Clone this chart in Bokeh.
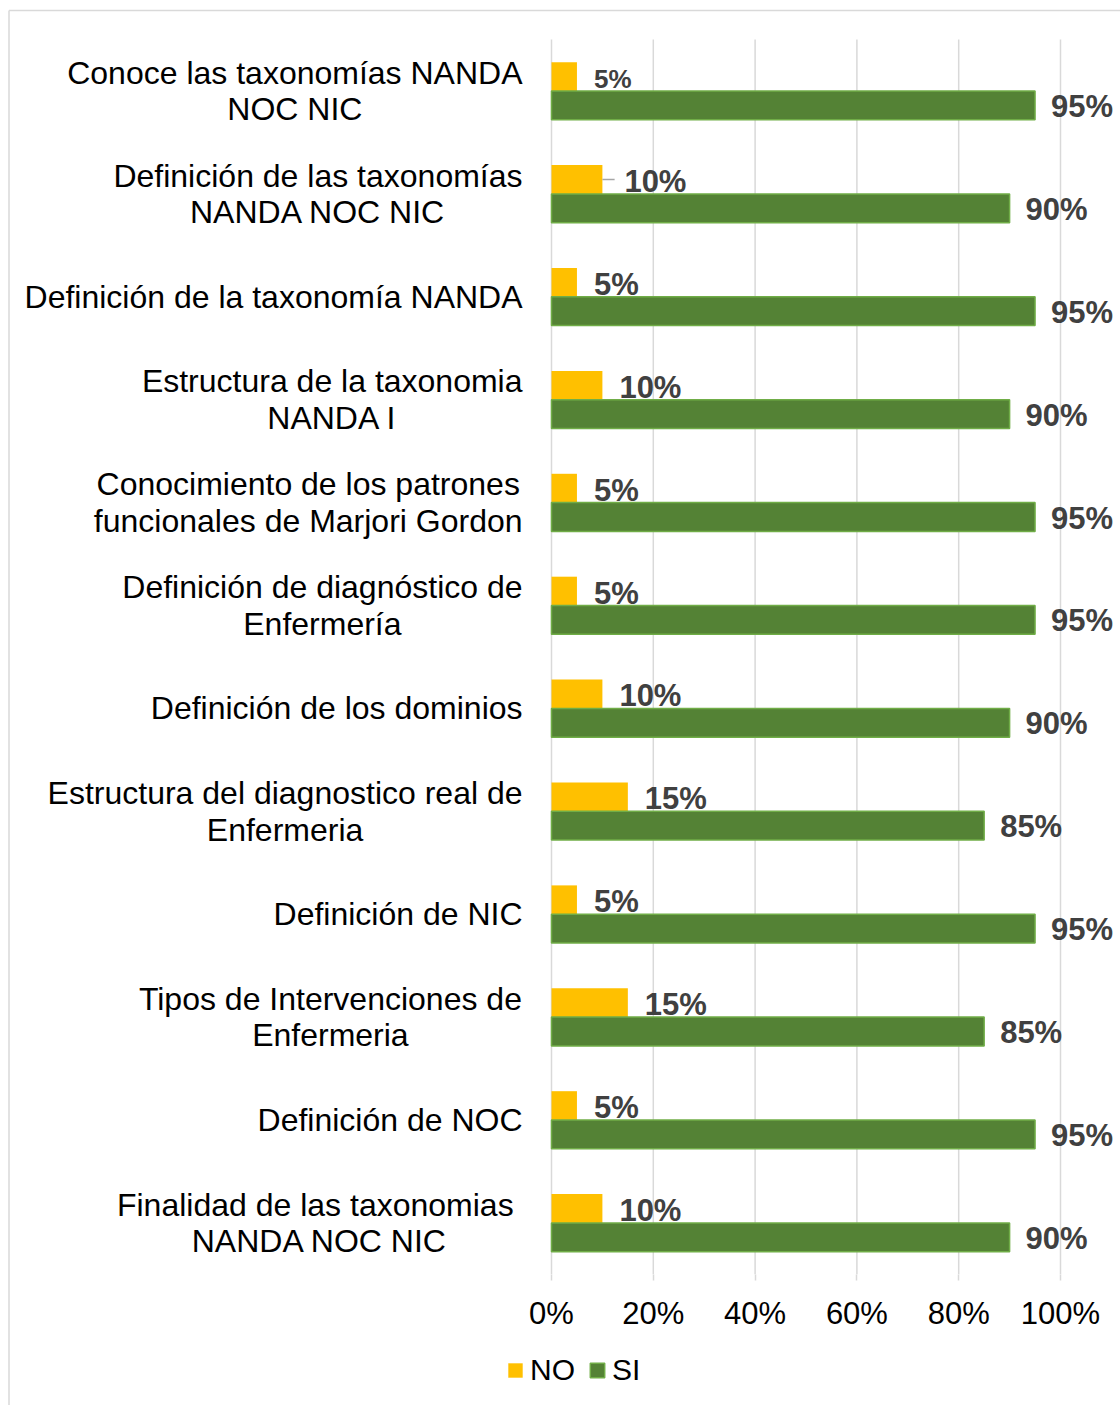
from bokeh.plotting import figure
from bokeh.models import (ColumnDataSource, Range1d, FixedTicker, PrintfTickFormatter,
                          LabelSet, Legend, LegendItem)
from bokeh.core.properties import value
from bokeh.transform import dodge
from bokeh.embed import file_html
from bokeh.resources import INLINE

# ---------------- data ----------------
categories = [
    "Conoce las taxonomías NANDA\nNOC NIC",
    "Definición de las taxonomías\nNANDA NOC NIC",
    "Definición de la taxonomía NANDA",
    "Estructura de la taxonomia\nNANDA I",
    "Conocimiento de los patrones\nfuncionales de Marjori Gordon",
    "Definición de diagnóstico de\nEnfermería",
    "Definición de los dominios",
    "Estructura del diagnostico real de\nEnfermeria",
    "Definición de NIC",
    "Tipos de Intervenciones de\nEnfermeria",
    "Definición de NOC",
    "Finalidad de las taxonomias \nNANDA NOC NIC",
]
no_values = [5, 10, 5, 10, 5, 5, 10, 15, 5, 15, 5, 10]
si_values = [95, 90, 95, 90, 95, 95, 90, 85, 95, 85, 95, 90]
x_ticks = [0, 20, 40, 60, 80, 100]
series_names = ["NO", "SI"]

# ---------------- styles / layout ----------------
NO_COLOR = "#FFC000"
SI_COLOR = "#548235"
SI_LINE = "#70AD47"
GRID = "#d9d9d9"
LABEL_COLOR = "#404040"
FONT = "Liberation Sans"
no_label_sizes = ["26px"] + ["31px"] * (len(categories) - 1)
no_label_dx = [17, 22] + [17] * (len(categories) - 2)

CW, CH = 1120, 1405          # canvas
X0_PX, X100_PX = 551, 1060   # pixel of 0% and 100%
TOP_CENTER_PX = 90.5         # pixel centre of first category
STEP_PX = 102.9              # pixels per category
PX_PER = (X100_PX - X0_PX) / 100.0

n = len(categories)
pos = [n - 1 - i for i in range(n)]

def xd(px):
    return (px - X0_PX) / PX_PER

def yd(py):
    return (n - 1) - (py - TOP_CENTER_PX) / STEP_PX

src = ColumnDataSource(dict(
    pos=pos,
    no=no_values,
    si=si_values,
    no_txt=[f"{v}%" for v in no_values],
    si_txt=[f"{v}%" for v in si_values],
    no_size=no_label_sizes,
    no_dx=no_label_dx,
))

p = figure(width=CW, height=CH, output_backend="svg", toolbar_location=None,
           x_range=Range1d(xd(0), xd(CW)), y_range=Range1d(yd(CH), yd(0)),
           min_border=0)
p.outline_line_color = None
p.background_fill_color = "white"
p.border_fill_color = "white"
p.xgrid.visible = False
p.ygrid.visible = False
p.yaxis.visible = False

# grid lines over the plot area only
p.segment(x0=x_ticks, x1=x_ticks, y0=[-0.5] * len(x_ticks), y1=[n - 0.5] * len(x_ticks),
          line_color=GRID, line_width=1.5)

off = 0.14
r_no = p.hbar(y=dodge("pos", off), right="no", left=0, height=0.28, source=src,
              fill_color=NO_COLOR, line_color=None)
r_si = p.hbar(y=dodge("pos", -off), right="si", left=0, height=0.28, source=src,
              fill_color=SI_COLOR, line_color=SI_LINE, line_width=1.5)

# leader line for the second row's NO label
p.segment(x0=[no_values[1]], x1=[no_values[1] + 2.4],
          y0=[pos[1] + off], y1=[pos[1] + off], line_color="#a6a6a6", line_width=1.5)

# value labels
p.add_layout(LabelSet(x="no", y=dodge("pos", off), text="no_txt", source=src,
                      x_offset="no_dx", y_offset=-2, text_font=value(FONT),
                      text_font_style="bold", text_font_size="no_size",
                      text_color=LABEL_COLOR, text_baseline="middle", text_align="left"))
p.add_layout(LabelSet(x="si", y=dodge("pos", -off), text="si_txt", source=src,
                      x_offset=16, y_offset=-1, text_font=value(FONT), text_font_style="bold",
                      text_font_size="31px", text_color=LABEL_COLOR,
                      text_baseline="middle", text_align="left"))

# x axis at the bottom of the plot area
xa = p.xaxis[0]
xa.fixed_location = -0.5
xa.ticker = FixedTicker(ticks=x_ticks)
xa.formatter = PrintfTickFormatter(format="%d%%")
xa.axis_line_color = None
xa.major_tick_line_color = GRID
xa.major_tick_line_width = 1.5
xa.major_tick_out = 6
xa.major_tick_in = 0
xa.minor_tick_line_color = None
xa.major_label_standoff = 16
xa.major_label_text_font = FONT
xa.major_label_text_font_size = "31px"
xa.major_label_text_color = "black"

# category labels: block right edge fixed, lines centred
AW = {' ': 278, 'A': 667, 'B': 667, 'C': 722, 'D': 722, 'E': 667, 'F': 611, 'G': 778,
      'H': 722, 'I': 278, 'J': 500, 'K': 667, 'L': 556, 'M': 833, 'N': 722, 'O': 778,
      'P': 667, 'Q': 778, 'R': 722, 'S': 667, 'T': 611, 'U': 722, 'V': 667, 'W': 944,
      'X': 667, 'Y': 667, 'Z': 611, 'a': 556, 'b': 556, 'c': 500, 'd': 556, 'e': 556,
      'f': 278, 'g': 556, 'h': 556, 'i': 222, 'j': 222, 'k': 500, 'l': 222, 'm': 833,
      'n': 556, 'o': 556, 'p': 556, 'q': 556, 'r': 333, 's': 500, 't': 278, 'u': 556,
      'v': 500, 'w': 722, 'x': 500, 'y': 500, 'z': 500, 'á': 556, 'é': 556, 'í': 278,
      'ó': 556, 'ú': 556}
CAT_FS = 32
RIGHT_EDGE_PX = 522

def text_w(s):
    return sum(AW.get(c, 556) for c in s) * CAT_FS / 1000.0

cat_x = [xd(RIGHT_EDGE_PX - max(text_w(l) for l in c.split("\n")) / 2) for c in categories]
cat_src = ColumnDataSource(dict(x=cat_x, y=pos, t=categories))
p.text(x="x", y="y", text="t", source=cat_src, text_align="center", text_baseline="middle",
       text_font=value(FONT), text_font_size=f"{CAT_FS}px", text_color="black",
       text_line_height=1.02)

# outer chart border (left and top edges)
bx, by = xd(8.5), yd(10)
p.segment(x0=[bx, bx], y0=[by, by], x1=[xd(CW + 10), bx], y1=[by, yd(CH + 10)],
          line_color=GRID, line_width=1.5)

# legend
legend = Legend(items=[LegendItem(label=series_names[0], renderers=[r_no]),
                       LegendItem(label=series_names[1], renderers=[r_si])],
                orientation="horizontal", location=(506, 18),
                glyph_width=18, glyph_height=18, label_standoff=6, spacing=13,
                padding=0, margin=0, border_line_color=None, background_fill_alpha=0,
                label_text_font=FONT, label_text_font_size="30px", label_text_color="black")
p.add_layout(legend, "center")

open("out.html", "w").write(file_html(p, INLINE))
